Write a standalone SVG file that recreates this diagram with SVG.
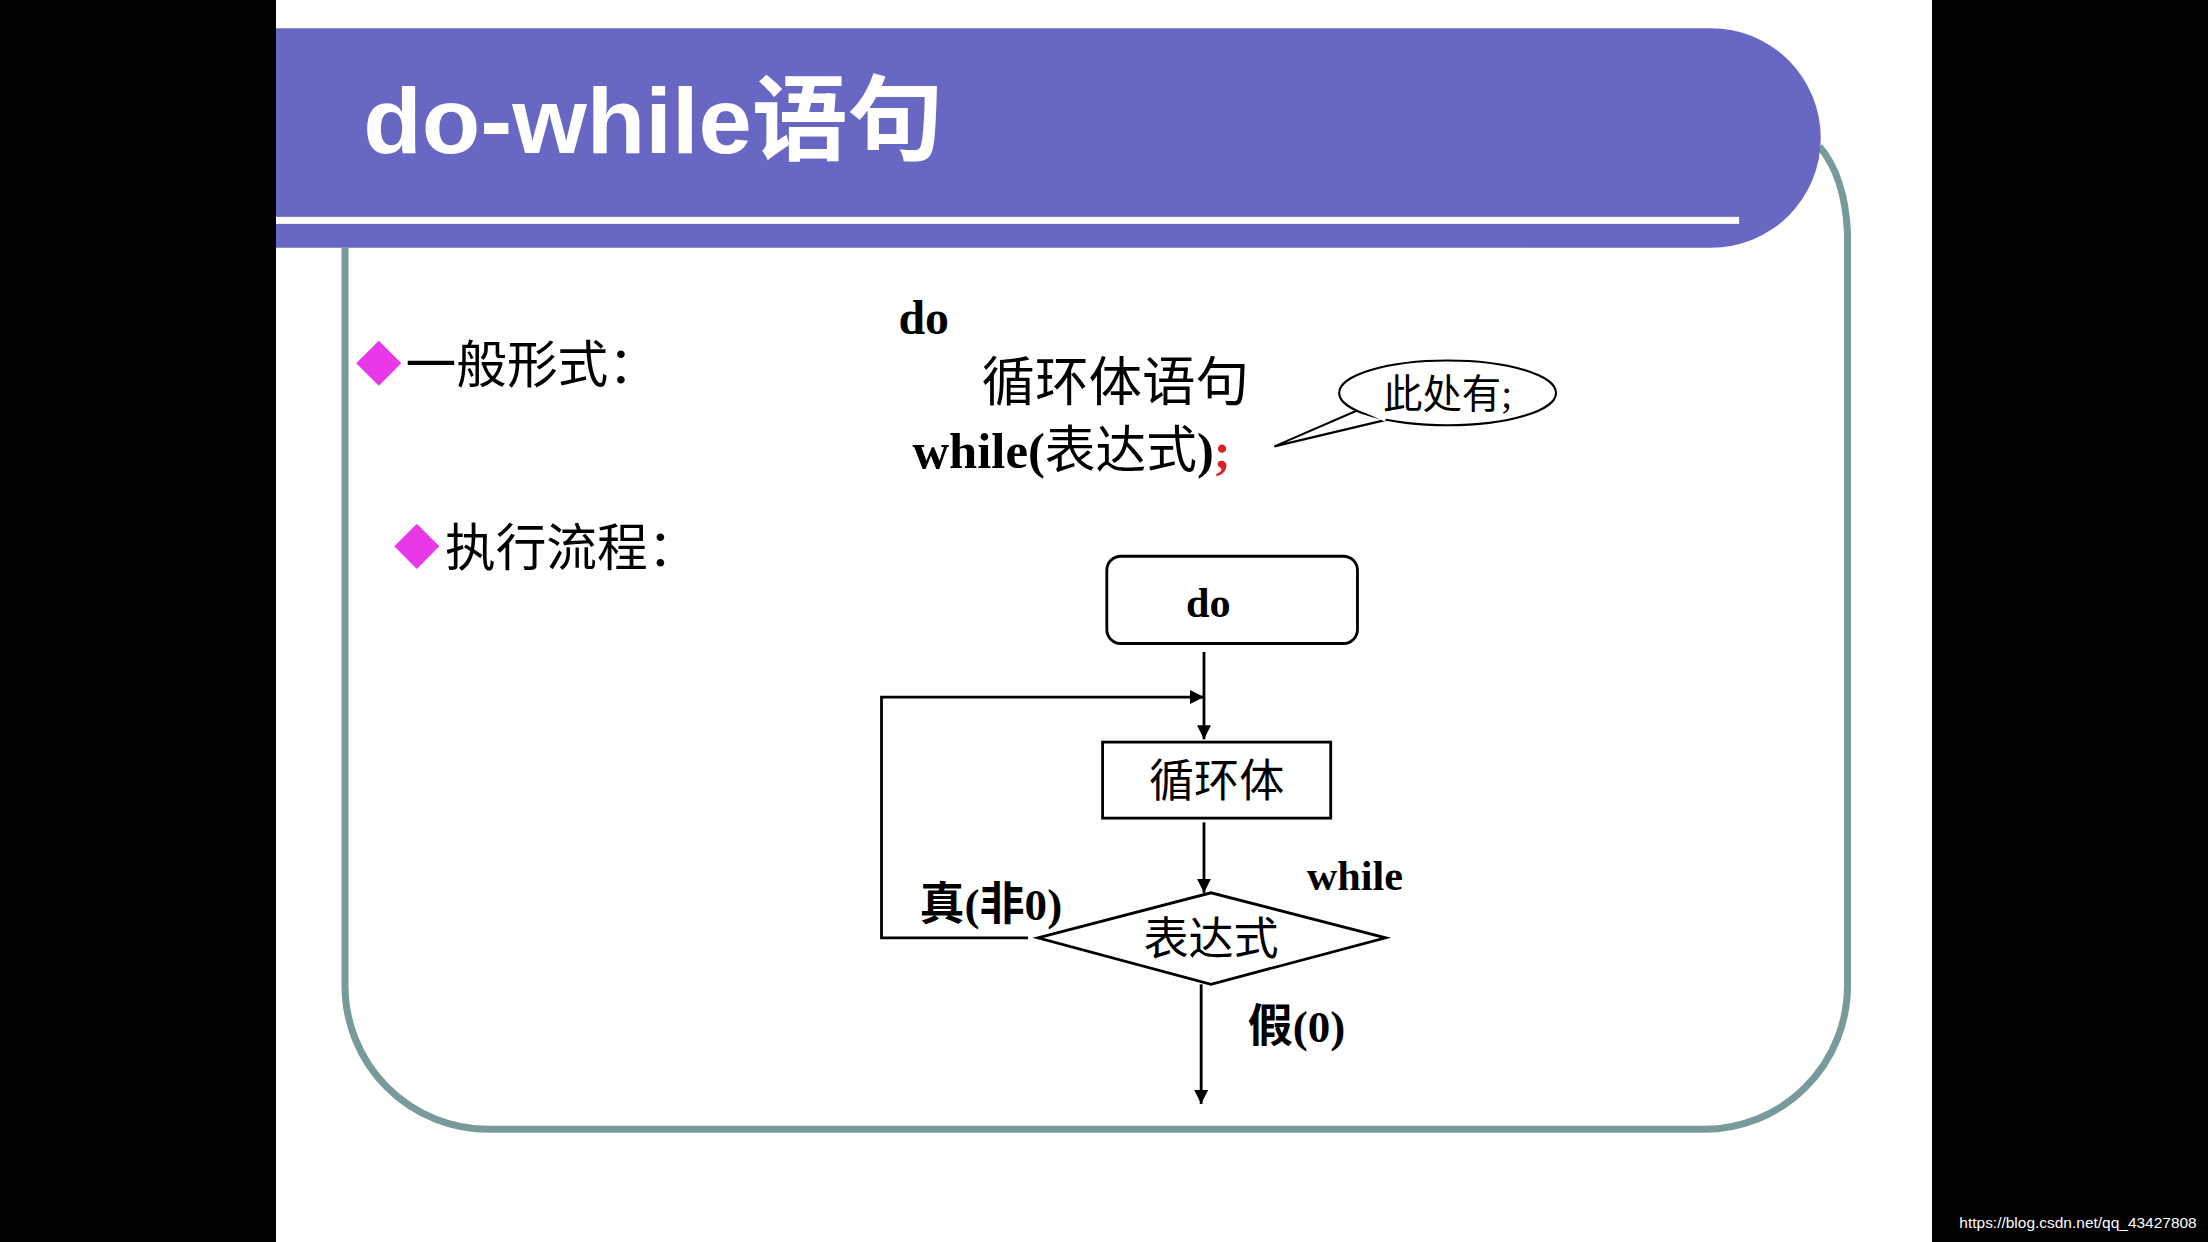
<svg xmlns="http://www.w3.org/2000/svg" width="2208" height="1242" viewBox="0 0 2208 1242">
<style>
.cn{font-family:"Liberation Serif","Noto Sans CJK SC",serif;fill:#000}
.b{font-weight:bold}
.ln{stroke:#000;stroke-width:2;fill:none}
</style>
<defs><marker id="ar" viewBox="0 0 10 10" refX="10" refY="5" markerWidth="5" markerHeight="5" orient="auto"><path d="M0,0L10,5L0,10z" fill="#000"/></marker></defs>
<rect width="2208" height="1242" fill="#000"/>
<g transform="scale(1.40816)">
<rect x="196" y="0" width="1176" height="882" fill="#fff"/>
<path d="M245,176 V700 A102,102 0 0 0 347,802 H1210 A102,102 0 0 0 1312,700 V165 Q1310,125 1292,104" fill="none" stroke="#789A9A" stroke-width="5"/>
<path d="M196,20 H1215 A78,78 0 0 1 1215,176 H196 Z" fill="#6868C4"/>
<rect x="196" y="154" width="1039" height="5" fill="#fff"/>
<text x="258" y="109" font-family="Liberation Sans,'Noto Sans CJK SC',sans-serif" font-weight="bold" font-size="66" fill="#fff" textLength="412" lengthAdjust="spacingAndGlyphs">do-while语句</text>
<g id="bullet1"><path d="M269,242 L285,258 L269,274 L253,258 Z" fill="#E838E8"/><text x="288" y="272" class="cn" font-size="36">一般形式：</text></g>
<g id="bullet2"><path d="M296,372 L312,388 L296,404 L280,388 Z" fill="#E838E8"/><text x="316" y="402" class="cn" font-size="36">执行流程：</text></g>
<g id="code">
<text x="638" y="237" class="cn b" font-size="34">do</text>
<text x="697" y="285" class="cn" font-size="38">循环体语句</text>
<text x="648" y="332" class="cn b" font-size="36">while(<tspan font-weight="normal">表达式</tspan>)<tspan fill="#E02020">;</tspan></text>
</g>
<g id="callout">
<path d="M965,291 L905,317 L985,298" fill="#fff" stroke="#000" stroke-width="1.5"/>
<ellipse cx="1028" cy="279" rx="77" ry="23" fill="#fff" stroke="#000" stroke-width="1.5"/>
<path d="M966,290 L984,298" stroke="#fff" stroke-width="3"/>
<text x="1028" y="290" text-anchor="middle" class="cn" font-size="28">此处有;</text>
</g>
<g id="connectors">
<line x1="855" y1="463" x2="855" y2="525" class="ln" marker-end="url(#ar)"/>
<polyline points="730,666 626,666 626,495 855,495" class="ln" marker-end="url(#ar)"/>
<line x1="855" y1="584" x2="855" y2="634" class="ln" marker-end="url(#ar)"/>
<line x1="853" y1="699" x2="853" y2="784" class="ln" marker-end="url(#ar)"/>
</g>
<g id="n_do"><rect x="786" y="395" width="178" height="62" rx="10" fill="#fff" stroke="#000" stroke-width="2"/><text x="858" y="438" text-anchor="middle" class="cn b" font-size="30">do</text></g>
<g id="n_body"><rect x="783" y="527" width="162" height="54" fill="#fff" stroke="#000" stroke-width="2"/><text x="864" y="566" text-anchor="middle" class="cn" font-size="32">循环体</text></g>
<g id="n_cond"><polygon points="737,666 860,634 984,666 860,699" fill="#fff" stroke="#000" stroke-width="2"/><text x="860" y="678" text-anchor="middle" class="cn" font-size="32">表达式</text></g>
<text x="928" y="632" class="cn b" font-size="30">while</text>
<text x="653" y="653" class="cn b" font-size="32">真(非0)</text>
<text x="886" y="740" class="cn b" font-size="32">假(0)</text>
<text x="1560" y="872" text-anchor="end" font-family="Liberation Sans,sans-serif" font-size="11" fill="#fff">https://blog.csdn.net/qq_43427808</text>
</g>
</svg>
